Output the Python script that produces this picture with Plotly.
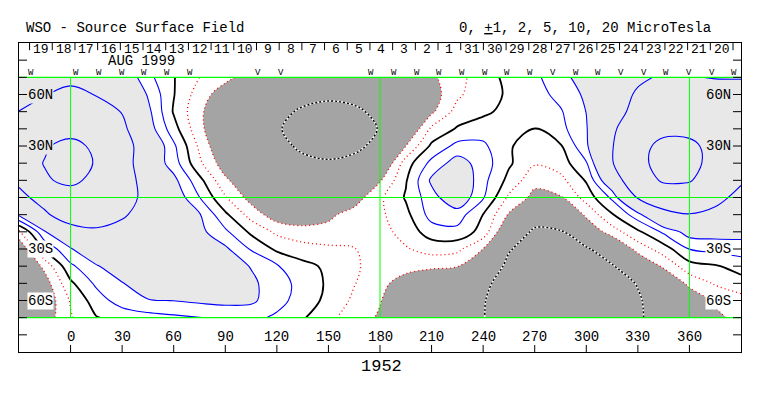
import plotly.graph_objects as go

# ---------------- data ----------------
lons = list(range(-30, 391, 15))            # grid longitudes (deg)
lats = [70, 60, 50, 40, 30, 20, 10, 0, -10, -20, -30, -40, -50, -60, -70]  # grid latitudes (deg)

# source-surface field (micro tesla), one row per latitude above, 29 longitudes each
row_70 = [4.0, 4.3, 4.4, 4.2, 3.0, 1.3, 0.05, -1.0, -1.7, -2.5, -3.2, -3.7, -3.9, -3.7, -3.3, -2.8, -2.2, -1.3, -0.5, 0.3, 0.8, 1.6, 2.6, 3.6, 4.6, 5.3, 5.1, 4.9, 4.9]
row_60 = [4.5, 4.9, 5.6, 4.9, 3.7, 1.9, 0.05, -1.5, -2.6, -3.4, -4.0, -4.5, -4.7, -4.5, -4.0, -3.3, -2.5, -1.2, -0.3, 0.1, 0.6, 1.3, 2.2, 3.8, 5.3, 6.2, 6.3, 6.0, 5.8]
row_50 = [5.02, 6.2, 6.8, 6.2, 4.9, 2.3, -0.1, -1.8, -3.0, -3.9, -4.6, -5.2, -5.5, -5.3, -4.6, -3.6, -2.2, -0.6, -0.2, 0.3, 0.6, 0.9, 2.02, 4.0, 5.8, 7.0, 7.2, 6.8, 6.4]
row_40 = [6.5, 7.6, 8.0, 7.5, 5.6, 2.6, 0.4, -1.7, -3.3, -4.3, -4.8, -5.8, -6.2, -5.8, -4.9, -3.3, -0.8, 0.1, 0.5, 0.5, -0.05, 0.7, 1.9, 4.6, 6.8, 9.0, 9.0, 8.0, 7.3]
row_30 = [7.3, 9.5, 11.5, 9.0, 6.3, 3.4, 1.2, -1.2, -3.2, -4.2, -4.5, -5.3, -5.7, -5.4, -4.5, -2.02, 0.2, 1.3, 1.2, 0.1, -0.5, -0.1, 1.8, 4.8, 8.8, 11.0, 10.8, 8.8, 7.0]
row_20 = [7.8, 10.2, 12.5, 9.6, 6.5, 3.0, 1.5, -0.8, -2.6, -3.6, -4.2, -4.6, -4.8, -4.5, -3.4, -0.5, 1.3, 2.5, 1.5, 0.15, -0.9, -0.5, 0.9, 4.8, 8.8, 11.6, 11.3, 8.6, 7.0]
row_10 = [5.5, 9.5, 11.0, 8.8, 6.2, 4.0, 2.3, 0.3, -1.8, -3.0, -3.6, -3.9, -4.0, -3.6, -2.1, -0.1, 2.2, 3.2, 1.3, -0.3, -1.7, -1.3, 0.1, 3.3, 7.5, 10.6, 10.4, 7.0, 5.3]
row_00 = [4.3, 6.0, 7.8, 7.8, 6.2, 4.2, 2.8, 1.02, -0.9, -2.4, -3.0, -3.2, -3.0, -2.5, -1.2, 0.1, 1.6, 2.9, 1.1, -1.2, -2.3, -2.1, -0.6, 1.2, 5.2, 6.8, 6.9, 5.7, 4.3]
row_m10 = [2.2, 4.6, 6.5, 6.6, 5.3, 4.0, 3.0, 2.1, 0.2, -1.4, -2.6, -2.7, -2.2, -1.6, -1.2, -0.3, 1.4, 1.5, -0.02, -2.1, -3.8, -3.4, -1.8, -0.1, 1.6, 4.2, 4.9, 4.4, 3.4]
row_m20 = [-1.3, 1.9, 3.8, 4.5, 4.2, 3.5, 2.9, 2.3, 1.2, -0.2, -1.2, -1.6, -1.7, -1.7, -1.4, -0.6, 0.5, 0.7, -0.4, -3.3, -5.4, -5.2, -2.9, -1.5, -0.2, 1.2, 2.5, 2.5, 2.4]
row_m30 = [-3.0, 0.2, 1.9, 3.0, 3.3, 3.3, 3.1, 2.8, 2.2, 0.9, -0.2, -0.6, -0.8, -0.95, -1.5, -1.1, -0.6, -0.75, -2.02, -4.8, -6.2, -6.3, -5.3, -3.5, -1.6, -0.5, 1.02, 1.3, 1.5]
row_m40 = [-3.6, -1.7, 0.8, 1.9, 2.7, 3.0, 3.0, 2.8, 2.5, 1.95, 1.1, 0.3, -0.2, -0.9, -1.3, -1.6, -1.8, -1.95, -3.0, -5.6, -6.6, -6.7, -6.0, -5.2, -3.2, -1.8, -0.4, -0.1, 0.4]
row_m50 = [-4.3, -2.5, -0.2, 1.2, 1.95, 2.5, 2.6, 2.6, 2.5, 2.2, 1.5, 0.6, -0.15, -0.95, -1.7, -2.5, -3.0, -3.6, -4.6, -5.8, -6.6, -6.8, -6.5, -5.8, -4.9, -3.3, -1.7, -0.9, -0.4]
row_m60 = [-4.6, -2.8, -0.9, 0.5, 1.5, 1.95, 2.02, 2.2, 2.3, 2.2, 1.4, 0.5, -0.25, -1.2, -1.95, -2.7, -3.2, -3.8, -4.9, -5.9, -6.5, -6.7, -6.4, -5.9, -5.2, -4.0, -2.9, -1.8, -1.4]
row_m70 = [-4.8, -2.6, -1.1, -0.05, 0.3, 0.6, 0.8, 0.98, 1.2, 1.3, 0.8, 0.1, -0.7, -1.6, -2.1, -2.8, -3.4, -4.0, -4.95, -5.7, -6.1, -6.2, -6.0, -5.6, -5.2, -4.3, -3.2, -2.3, -1.6]

field_rows = [row_70, row_60, row_50, row_40, row_30, row_20, row_10, row_00,
              row_m10, row_m20, row_m30, row_m40, row_m50, row_m60, row_m70]

positive_levels = [1, 2, 5, 10]
negative_levels = [-1, -2]
inner_negative_levels = [-5]
neutral_level = 0

day_labels = ["19", "18", "17", "16", "15", "14", "13", "12", "11", "10", "9", "8", "7", "6", "5",
              "4", "3", "2", "1", "31", "30", "29", "28", "27", "26", "25", "24", "23", "22", "21", "20"]
marker_days = [0, 2, 3, 4, 5, 6, 7, 10, 11, 15, 16, 17, 18, 19, 20, 21, 22, 23, 24, 25, 26, 27, 28, 29, 30, 31]
marker_syms = ["W", "W", "W", "W", "W", "W", "W", "V", "V", "W", "W", "W", "W", "W", "W", "W", "W",
               "V", "W", "W", "V", "V", "W", "V", "V", "W"]
lon_ticks = [0, 30, 60, 90, 120, 150, 180, 210, 240, 270, 300, 330, 360]
lat_label_vals = [60, 30, -30, -60]
lat_label_text = ["60N", "30N", "30S", "60S"]
lat_tick_vals = [-80, -70, -60, -50, -40, -30, -20, -10, 0, 10, 20, 30, 40, 50, 60, 70, 80]
green_lons = [0, 180, 360]
green_lats = [70, 0, -70]
rotation = "1952"
month = "AUG 1999"

# ---------------- layout constants ----------------
LON_MIN, LON_MAX = -30, 390
LAT_MIN, LAT_MAX = -90, 90
DAY0 = -23.85          # lon of first day tick
DAY_STEP = 13.2        # deg per day
FONT = "Liberation Mono, Courier New, monospace"
DARK = "#a4a4a4"
LIGHT = "#e8e8e8"

lats_asc = lats[::-1]
z_asc = field_rows[::-1]
SMOOTH = 1.0

fig = go.Figure()

# filled bands: < -2 dark, -2..2 white, > 2 light
fig.add_trace(go.Contour(
    x=lons, y=lats_asc, z=z_asc, autocontour=False,
    contours=dict(start=-2, end=2, size=4, coloring="fill", showlines=False),
    colorscale=[[0, DARK], [0.33, DARK], [0.34, "#ffffff"], [0.66, "#ffffff"], [0.67, LIGHT], [1, LIGHT]],
    showscale=False, line=dict(width=0, smoothing=SMOOTH), hoverinfo="skip"))


def level_line(level, color, width, dash="solid"):
    return go.Contour(
        x=lons, y=lats_asc, z=z_asc, autocontour=False,
        contours=dict(start=level, end=level, size=1, coloring="none"),
        line=dict(color=color, width=width, dash=dash, smoothing=SMOOTH),
        showscale=False, hoverinfo="skip")


for lv in inner_negative_levels:
    fig.add_trace(level_line(lv, "#ffffff", 1.4))
    fig.add_trace(level_line(lv, "#000000", 1.4, "2px,2px"))
for lv in negative_levels:
    fig.add_trace(level_line(lv, "#ff0000", 1.3, "1px,3px"))
fig.add_trace(level_line(neutral_level, "#000000", 1.8))
for lv in positive_levels:
    fig.add_trace(level_line(lv, "#0000ff", 1.1))

shapes = []
# green reference lines
for gl in green_lons:
    shapes.append(dict(type="line", xref="x", yref="y", x0=gl, x1=gl, y0=-70, y1=70,
                       line=dict(color="#00ff00", width=1), layer="above"))
for gl in green_lats:
    shapes.append(dict(type="line", xref="x", yref="y", x0=LON_MIN, x1=LON_MAX, y0=gl, y1=gl,
                       line=dict(color="#00ff00", width=1.2), layer="above"))
# latitude ticks (left / right)
for lt in lat_tick_vals:
    shapes.append(dict(type="line", xref="x", yref="y", x0=LON_MIN, x1=LON_MIN + 4.65, y0=lt, y1=lt,
                       line=dict(color="black", width=1), layer="above"))
    shapes.append(dict(type="line", xref="x", yref="y", x0=LON_MAX - 4.65, x1=LON_MAX, y0=lt, y1=lt,
                       line=dict(color="black", width=1), layer="above"))
# longitude ticks at bottom
for ln in lon_ticks:
    shapes.append(dict(type="line", xref="x", yref="y", x0=ln, x1=ln, y0=LAT_MIN, y1=LAT_MIN + 4.1,
                       line=dict(color="black", width=1), layer="above"))
# day ticks at top
for k in range(len(day_labels) + 1):
    dl = DAY0 + k * DAY_STEP
    shapes.append(dict(type="line", xref="x", yref="y", x0=dl, x1=dl, y0=LAT_MAX, y1=LAT_MAX - 4.2,
                       line=dict(color="black", width=1), layer="above"))

ann = []
for k, lab in enumerate(day_labels):
    ann.append(dict(x=DAY0 + (k + 0.5) * DAY_STEP, y=86.3, xref="x", yref="y", text=lab,
                    showarrow=False, font=dict(family=FONT, size=13, color="black"),
                    xanchor="center", yanchor="middle"))
for k, s in zip(marker_days, marker_syms):
    ann.append(dict(x=DAY0 + k * DAY_STEP + 0.8, y=72.6, xref="x", yref="y", text=s,
                    showarrow=False, font=dict(family=FONT, size=9, color="black"),
                    xanchor="center", yanchor="middle", borderpad=0))
ann.append(dict(x=41.5, y=79.8, xref="x", yref="y", text=month, showarrow=False, borderpad=0,
                font=dict(family=FONT, size=14, color="black"), xanchor="center", yanchor="middle"))
for ln in lon_ticks:
    ann.append(dict(x=ln, y=-81.2, xref="x", yref="y", text=str(ln), showarrow=False,
                    font=dict(family=FONT, size=14, color="black"), xanchor="center", yanchor="middle"))
for v, t in zip(lat_label_vals, lat_label_text):
    bg = LIGHT if v > 0 else "#ffffff"
    ann.append(dict(x=-25.3, y=v, xref="x", yref="y", text=t, showarrow=False, bgcolor=bg, borderpad=0,
                    font=dict(family=FONT, size=14, color="black"), xanchor="left", yanchor="middle"))
    ann.append(dict(x=384.6, y=v, xref="x", yref="y", text=t, showarrow=False, bgcolor=bg, borderpad=0,
                    font=dict(family=FONT, size=14, color="black"), xanchor="right", yanchor="middle"))
ann.append(dict(x=0.0069, y=1.0485, xref="paper", yref="paper", text="WSO - Source Surface Field",
                showarrow=False, font=dict(family=FONT, size=14, color="black"),
                xanchor="left", yanchor="middle"))
ann.append(dict(x=0.6066, y=1.0485, xref="paper", yref="paper",
                text="0, <u>+</u>1, 2, 5, 10, 20 MicroTesla",
                showarrow=False, font=dict(family=FONT, size=14, color="black"),
                xanchor="left", yanchor="middle"))
ann.append(dict(x=0.5014, y=-0.0485, xref="paper", yref="paper", text=rotation,
                showarrow=False, font=dict(family=FONT, size=17, color="black"),
                xanchor="center", yanchor="middle"))

# the page body adds an 8 px offset, so the figure is 8 px smaller and margins shifted
fig.update_layout(
    width=755, height=388,
    margin=dict(l=11, r=22, t=35, b=44, pad=0),
    paper_bgcolor="white", plot_bgcolor="white",
    showlegend=False,
    xaxis=dict(range=[LON_MIN, LON_MAX], showgrid=False, zeroline=False, showticklabels=False,
               ticks="", showline=True, mirror=True, linecolor="black", linewidth=1, fixedrange=True),
    yaxis=dict(range=[LAT_MIN, LAT_MAX], showgrid=False, zeroline=False, showticklabels=False,
               ticks="", showline=True, mirror=True, linecolor="black", linewidth=1, fixedrange=True),
    shapes=shapes, annotations=ann,
)

fig.write_html("out.html")
